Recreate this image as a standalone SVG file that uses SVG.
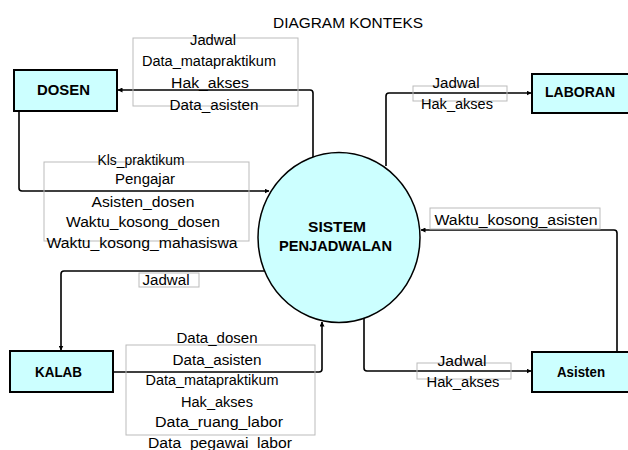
<svg xmlns="http://www.w3.org/2000/svg" width="628" height="450" viewBox="0 0 628 450">
<style>
text{font-family:"Liberation Sans",Arial,sans-serif;font-size:15.5px;fill:#000;text-anchor:middle}
.nm{font-weight:bold;font-size:15px}
.box{fill:#ccffff;stroke:#000;stroke-width:2}
.lbl{fill:none;stroke:#bbbbbb;stroke-width:1}
.con{fill:none;stroke:#000;stroke-width:1.6}
</style>
<defs>
<marker id="ah" viewBox="0 0 10 10" refX="9" refY="5" markerWidth="5" markerHeight="5" markerUnits="userSpaceOnUse" orient="auto">
<path d="M0,0 L10,5 L0,10 z" fill="#000"/>
</marker>
</defs>
<rect width="628" height="450" fill="#fff"/>
<text x="348" y="28" textLength="150" lengthAdjust="spacingAndGlyphs">DIAGRAM KONTEKS</text>

<g id="connectors">
<path class="con" marker-end="url(#ah)" d="M313,157 V93 Q313,90 310,90 H118"/>
<path class="con" marker-end="url(#ah)" d="M19,111 V188 Q19,191 22,191 H269"/>
<path class="con" marker-end="url(#ah)" d="M386,166 V96 Q386,93 389,93 H531"/>
<path class="con" marker-end="url(#ah)" d="M617,352 V233 Q617,230 614,230 H421"/>
<path class="con" marker-end="url(#ah)" d="M265,271 H64 Q61,271 61,274 V350"/>
<path class="con" marker-end="url(#ah)" d="M113,372 H319 Q322,372 322,369 V322"/>
<path class="con" marker-end="url(#ah)" d="M364,318 V368 Q364,371 367,371 H531"/>
</g>

<g id="labels">
<rect class="lbl" x="133" y="38" width="165" height="68"/>
<text x="213" y="45" textLength="46" lengthAdjust="spacingAndGlyphs">Jadwal</text>
<text x="209" y="66" textLength="134" lengthAdjust="spacingAndGlyphs">Data_matapraktikum</text>
<text x="210" y="88" textLength="78" lengthAdjust="spacingAndGlyphs">Hak_akses</text>
<text x="214" y="110" textLength="89" lengthAdjust="spacingAndGlyphs">Data_asisten</text>

<rect class="lbl" x="44" y="162" width="205" height="79"/>
<text x="141" y="165" textLength="87" lengthAdjust="spacingAndGlyphs">Kls_praktikum</text>
<text x="145" y="184" textLength="60" lengthAdjust="spacingAndGlyphs">Pengajar</text>
<text x="143" y="207" textLength="103" lengthAdjust="spacingAndGlyphs">Asisten_dosen</text>
<text x="143" y="227" textLength="154" lengthAdjust="spacingAndGlyphs">Waktu_kosong_dosen</text>
<text x="142" y="248" textLength="191" lengthAdjust="spacingAndGlyphs">Waktu_kosong_mahasiswa</text>

<rect class="lbl" x="139" y="273" width="60" height="14"/>
<text x="166" y="285" textLength="47" lengthAdjust="spacingAndGlyphs">Jadwal</text>

<rect class="lbl" x="126" y="345" width="189" height="90"/>
<text x="217" y="343" textLength="81" lengthAdjust="spacingAndGlyphs">Data_dosen</text>
<text x="217" y="365" textLength="89" lengthAdjust="spacingAndGlyphs">Data_asisten</text>
<text x="212" y="385" textLength="133" lengthAdjust="spacingAndGlyphs">Data_matapraktikum</text>
<text x="217" y="407" textLength="72" lengthAdjust="spacingAndGlyphs">Hak_akses</text>
<text x="219" y="427" textLength="128" lengthAdjust="spacingAndGlyphs">Data_ruang_labor</text>
<text x="220" y="448" textLength="144" lengthAdjust="spacingAndGlyphs">Data_pegawai_labor</text>

<rect class="lbl" x="417" y="363" width="94" height="16"/>
<text x="462" y="366" textLength="49" lengthAdjust="spacingAndGlyphs">Jadwal</text>
<text x="463" y="387" textLength="73" lengthAdjust="spacingAndGlyphs">Hak_akses</text>

<rect class="lbl" x="430" y="208" width="170" height="21"/>
<text x="516" y="225" textLength="163" lengthAdjust="spacingAndGlyphs">Waktu_kosong_asisten</text>

<rect class="lbl" x="413" y="86" width="94" height="15"/>
<text x="456" y="88" textLength="47" lengthAdjust="spacingAndGlyphs">Jadwal</text>
<text x="457" y="109" textLength="72" lengthAdjust="spacingAndGlyphs">Hak_akses</text>
</g>

<g id="sistem">
<ellipse cx="339" cy="237.5" rx="81" ry="85" fill="#ccffff" stroke="#000" stroke-width="1.5"/>
<text class="nm" x="337" y="232" textLength="58" lengthAdjust="spacingAndGlyphs">SISTEM</text>
<text class="nm" x="335.5" y="251" textLength="113" lengthAdjust="spacingAndGlyphs">PENJADWALAN</text>
</g>

<g id="dosen">
<rect class="box" x="14" y="70" width="103" height="41"/>
<text class="nm" x="63.5" y="95" textLength="53" lengthAdjust="spacingAndGlyphs">DOSEN</text>
</g>

<g id="laboran">
<rect class="box" x="532" y="74" width="110" height="39"/>
<text class="nm" x="580" y="97" textLength="70" lengthAdjust="spacingAndGlyphs">LABORAN</text>
</g>

<g id="kalab">
<rect class="box" x="10" y="351" width="103" height="41"/>
<text class="nm" x="58.5" y="377" textLength="47" lengthAdjust="spacingAndGlyphs">KALAB</text>
</g>

<g id="asisten">
<rect class="box" x="532" y="352" width="110" height="40"/>
<text class="nm" x="581" y="377" textLength="48" lengthAdjust="spacingAndGlyphs">Asisten</text>
</g>
</svg>
